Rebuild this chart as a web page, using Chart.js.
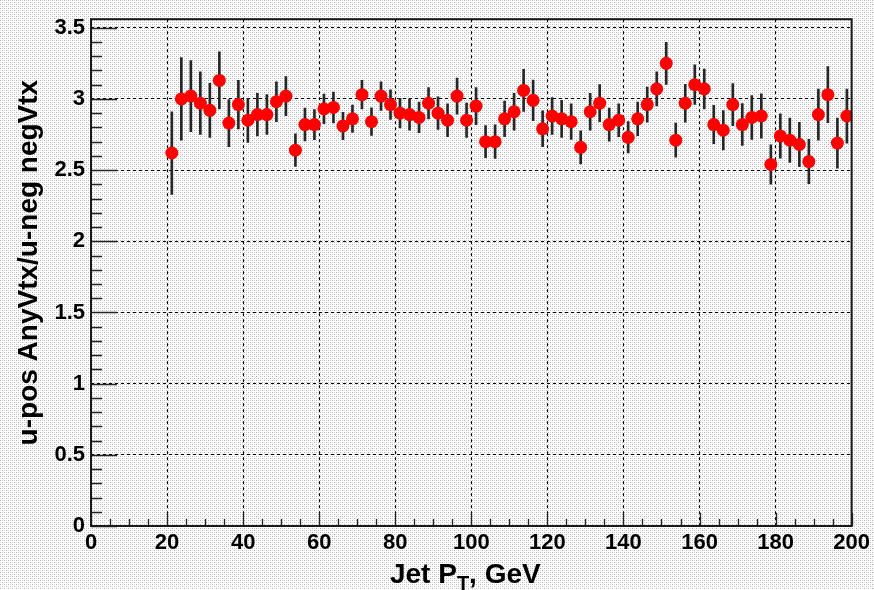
<!DOCTYPE html>
<html>
<head>
<meta charset="utf-8">
<script src="https://cdn.jsdelivr.net/npm/chart.js@4.4.0/dist/chart.umd.min.js"></script>
<style>
  html, body { margin: 0; padding: 0; background: #fff; }
  #ratioChart { display: block; }
</style>
</head>
<body>
<canvas id="ratioChart" width="874" height="590"></canvas>
<script>
// bin centres (GeV)
const binCenters = [
  21.25, 23.75, 26.25, 28.75, 31.25, 33.75, 36.25, 38.75, 41.25, 43.75,
  46.25, 48.75, 51.25, 53.75, 56.25, 58.75, 61.25, 63.75, 66.25, 68.75,
  71.25, 73.75, 76.25, 78.75, 81.25, 83.75, 86.25, 88.75, 91.25, 93.75,
  96.25, 98.75, 101.25, 103.75, 106.25, 108.75, 111.25, 113.75, 116.25, 118.75,
  121.25, 123.75, 126.25, 128.75, 131.25, 133.75, 136.25, 138.75, 141.25, 143.75,
  146.25, 148.75, 151.25, 153.75, 156.25, 158.75, 161.25, 163.75, 166.25, 168.75,
  171.25, 173.75, 176.25, 178.75, 181.25, 183.75, 186.25, 188.75, 191.25, 193.75,
  196.25, 198.75
];

// u-pos AnyVtx / u-neg negVtx ratio
const ratioValues = [
  2.62, 3.00, 3.02, 2.97, 2.92, 3.13, 2.83, 2.96, 2.85, 2.89,
  2.89, 2.98, 3.02, 2.64, 2.82, 2.82, 2.93, 2.94, 2.81, 2.86,
  3.03, 2.84, 3.02, 2.96, 2.90, 2.89, 2.87, 2.97, 2.90, 2.85,
  3.02, 2.85, 2.95, 2.70, 2.70, 2.86, 2.91, 3.06, 2.99, 2.79,
  2.88, 2.86, 2.84, 2.66, 2.91, 2.97, 2.82, 2.85, 2.73, 2.86,
  2.96, 3.07, 3.25, 2.71, 2.97, 3.10, 3.07, 2.82, 2.78, 2.96,
  2.82, 2.87, 2.88, 2.54, 2.74, 2.71, 2.68, 2.56, 2.89, 3.03,
  2.69, 2.88
];

// symmetric errors
const ratioErrors = [
  0.29, 0.29, 0.25, 0.22, 0.19, 0.20, 0.165, 0.17, 0.155, 0.15,
  0.14, 0.14, 0.137, 0.115, 0.115, 0.106, 0.104, 0.108, 0.096, 0.096,
  0.10, 0.097, 0.10, 0.104, 0.104, 0.11, 0.107, 0.11, 0.115, 0.115,
  0.127, 0.12, 0.13, 0.113, 0.118, 0.125, 0.13, 0.147, 0.142, 0.126,
  0.13, 0.13, 0.125, 0.116, 0.13, 0.13, 0.116, 0.116, 0.11, 0.118,
  0.124, 0.12, 0.148, 0.12, 0.133, 0.139, 0.14, 0.135, 0.138, 0.148,
  0.147, 0.154, 0.155, 0.138, 0.156, 0.156, 0.156, 0.156, 0.18, 0.197,
  0.176, 0.19
];

const xTitleMain = 'Jet P';
const xTitleSub = 'T';
const xTitleEnd = ', GeV';
const yTitle = 'u-pos AnyVtx/u-neg negVtx';

const FONT = '"Liberation Sans", Arial, Helvetica, sans-serif';

const canvas = document.getElementById('ratioChart');
const ctx = canvas.getContext('2d');

function makeStipple(c2d) {
  const tile = document.createElement('canvas');
  tile.width = 4; tile.height = 4;
  const g = tile.getContext('2d');
  g.fillStyle = '#ffffff';
  g.fillRect(0, 0, 4, 4);
  g.fillStyle = '#b2b2b2';
  g.fillRect(0, 0, 1, 1);
  g.fillRect(2, 2, 1, 1);
  g.fillStyle = '#dedede';
  g.fillRect(2, 0, 1, 1);
  g.fillRect(0, 2, 1, 1);
  return c2d.createPattern(tile, 'repeat');
}
const stipple = makeStipple(ctx);

const pointData = binCenters.map((x, i) => ({ x, y: ratioValues[i] }));
const errorData = binCenters.map((x, i) => ({ x, y: [ratioValues[i] - ratioErrors[i], ratioValues[i] + ratioErrors[i]] }));

const rootStyle = {
  id: 'rootStyle',
  beforeDraw(chart) {
    const c = chart.ctx;
    c.save();
    c.fillStyle = stipple;
    c.fillRect(0, 0, chart.width, chart.height);
    c.restore();
  },
  afterDraw(chart) {
    const c = chart.ctx;
    const a = chart.chartArea;
    const xs = chart.scales.x;
    const ys = chart.scales.y;
    c.save();

    // inner ticks
    c.strokeStyle = '#222';
    c.lineWidth = 1.3;
    c.beginPath();
    for (let v = 0; v <= 200; v += 5) {
      const px = Math.round(xs.getPixelForValue(v)) + 0.5;
      const len = v % 20 === 0 ? 13 : 7;
      c.moveTo(px, a.bottom);
      c.lineTo(px, a.bottom - len);
    }
    for (let k = 0; k <= 35; k++) {
      const py = Math.round(ys.getPixelForValue(k / 10)) + 0.5;
      const len = k % 5 === 0 ? 26 : 11;
      c.moveTo(a.left, py);
      c.lineTo(a.left + len, py);
    }
    c.stroke();

    // frame
    c.strokeStyle = '#1a1a1a';
    c.lineWidth = 2;
    c.strokeRect(a.left, a.top, a.right - a.left, a.bottom - a.top);

    // x title with subscript
    c.fillStyle = '#000';
    c.textBaseline = 'alphabetic';
    c.textAlign = 'left';
    const big = 'bold 28px ' + FONT;
    const small = 'bold 20px ' + FONT;
    c.font = big;
    const w1 = c.measureText(xTitleMain).width;
    const w3 = c.measureText(xTitleEnd).width;
    c.font = small;
    const w2 = c.measureText(xTitleSub).width;
    const total = w1 + w2 + w3;
    let tx = (a.left + a.right) / 2 - total / 2 - 6;
    const ty = 583;
    c.font = big;
    c.fillText(xTitleMain, tx, ty);
    tx += w1;
    c.font = small;
    c.fillText(xTitleSub, tx, ty + 7);
    tx += w2;
    c.font = big;
    c.fillText(xTitleEnd, tx, ty);

    // y title
    c.translate(29, (a.top + a.bottom) / 2 - 10);
    c.rotate(-Math.PI / 2);
    c.textAlign = 'center';
    c.textBaseline = 'middle';
    c.font = big;
    c.fillText(yTitle, 0, 0);
    c.restore();
  }
};

new Chart(ctx, {
  type: 'scatter',
  data: {
    datasets: [
      {
        label: 'ratio',
        data: pointData,
        backgroundColor: '#ff0000',
        borderWidth: 0,
        pointRadius: 6.5,
        pointHoverRadius: 6.5,
        order: 1
      },
      {
        type: 'bar',
        label: 'errors',
        data: errorData,
        backgroundColor: '#262626',
        borderWidth: 0,
        barThickness: 2,
        grouped: false,
        order: 2
      }
    ]
  },
  options: {
    responsive: false,
    animation: false,
    devicePixelRatio: 1,
    layout: { padding: { top: 13, right: 22, left: 0, bottom: 0 } },
    plugins: {
      legend: { display: false },
      tooltip: { enabled: false }
    },
    scales: {
      x: {
        type: 'linear',
        min: 0,
        max: 200,
        offset: false,
        afterFit: (s) => { s.height = 64; },
        ticks: {
          stepSize: 20,
          color: '#000',
          padding: 4,
          maxRotation: 0,
          font: { family: FONT, size: 22, weight: 'bold' }
        },
        grid: { offset: false, color: '#000', lineWidth: 1, drawTicks: false },
        border: { display: false, dash: [3, 3] }
      },
      y: {
        type: 'linear',
        min: 0,
        max: 3.56,
        afterFit: (s) => { s.width = 91; },
        ticks: {
          stepSize: 0.5,
          includeBounds: false,
          color: '#000',
          padding: 6,
          font: { family: FONT, size: 22, weight: 'bold' },
          callback: (v) => String(Math.round(v * 10) / 10)
        },
        grid: { color: '#000', lineWidth: 1, drawTicks: false },
        border: { display: false, dash: [3, 3] }
      }
    }
  },
  plugins: [rootStyle]
});
</script>
</body>
</html>
